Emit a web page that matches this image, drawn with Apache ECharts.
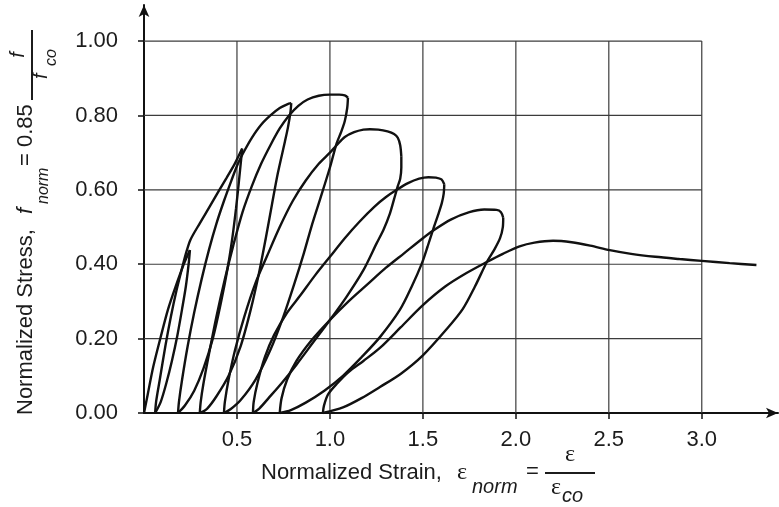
<!DOCTYPE html>
<html>
<head>
<meta charset="utf-8">
<script src="https://cdn.jsdelivr.net/npm/echarts@6/dist/echarts.min.js"></script>
<style>
html,body{margin:0;padding:0;background:#fff;}
#c{width:779px;height:507px;}
</style>
</head>
<body>
<div id="c"></div>
<script>
// ---- tick labels ----
const xTicks = [0.5, 1.0, 1.5, 2.0, 2.5, 3.0];
const yTicks = [0, 0.2, 0.4, 0.6, 0.8, 1.0];

// ---- curves (normalized strain, normalized stress) ----
const envelope0 = [[0,0],[0.02,0.05],[0.05,0.125],[0.09,0.205],[0.13,0.28],[0.17,0.34],[0.21,0.395],[0.247,0.438]];
const unload1 = [[0.247,0.438],[0.24,0.40],[0.225,0.34],[0.205,0.28],[0.18,0.21],[0.15,0.14],[0.12,0.08],[0.09,0.03],[0.06,0]];
const reload1 = [[0.06,0],[0.065,0.03],[0.085,0.09],[0.115,0.18],[0.145,0.26],[0.175,0.33],[0.205,0.39],[0.228,0.433],[0.25,0.466],[0.30,0.51],[0.35,0.552],[0.40,0.595],[0.445,0.633],[0.49,0.672],[0.528,0.711]];
const unload2 = [[0.528,0.711],[0.522,0.68],[0.51,0.62],[0.495,0.55],[0.475,0.47],[0.45,0.39],[0.415,0.30],[0.37,0.20],[0.32,0.12],[0.27,0.06],[0.22,0.02],[0.183,0]];
const reload2 = [[0.183,0],[0.188,0.03],[0.205,0.09],[0.235,0.18],[0.27,0.27],[0.31,0.36],[0.35,0.44],[0.39,0.51],[0.43,0.57],[0.47,0.625],[0.505,0.67],[0.54,0.705],[0.58,0.74],[0.63,0.775],[0.68,0.80],[0.73,0.82],[0.77,0.83],[0.792,0.833]];
const unload3 = [[0.792,0.833],[0.788,0.81],[0.775,0.77],[0.758,0.73],[0.72,0.645],[0.688,0.56],[0.655,0.47],[0.62,0.38],[0.575,0.28],[0.52,0.18],[0.455,0.10],[0.39,0.045],[0.34,0.012],[0.30,0]];
const reload3 = [[0.30,0],[0.305,0.03],[0.32,0.08],[0.35,0.16],[0.39,0.26],[0.435,0.36],[0.48,0.45],[0.53,0.54],[0.58,0.61],[0.63,0.67],[0.68,0.72],[0.73,0.765],[0.78,0.80],[0.83,0.826],[0.88,0.843],[0.94,0.853],[1.0,0.856],[1.05,0.856],[1.08,0.854],[1.097,0.848]];
const unload4 = [[1.097,0.848],[1.093,0.82],[1.08,0.785],[1.06,0.755],[1.036,0.725],[1.0,0.66],[0.946,0.573],[0.90,0.50],[0.86,0.43],[0.81,0.35],[0.75,0.26],[0.68,0.17],[0.60,0.09],[0.52,0.035],[0.465,0.01],[0.43,0]];
const reload4 = [[0.43,0],[0.435,0.03],[0.455,0.09],[0.49,0.17],[0.54,0.26],[0.60,0.35],[0.66,0.42],[0.73,0.50],[0.80,0.57],[0.87,0.625],[0.94,0.67],[1.0,0.70],[1.036,0.72],[1.08,0.742],[1.13,0.755],[1.18,0.762],[1.215,0.763],[1.26,0.762],[1.31,0.757],[1.345,0.75],[1.365,0.74],[1.378,0.72],[1.384,0.69]];
const unload5 = [[1.384,0.69],[1.384,0.66],[1.378,0.63],[1.365,0.61],[1.345,0.575],[1.323,0.537],[1.29,0.495],[1.251,0.456],[1.18,0.384],[1.09,0.313],[1.0,0.25],[0.91,0.19],[0.82,0.13],[0.74,0.08],[0.67,0.04],[0.62,0.012],[0.586,0]];
const reload5 = [[0.586,0],[0.59,0.03],[0.61,0.08],[0.65,0.15],[0.70,0.21],[0.77,0.27],[0.839,0.315],[0.92,0.37],[1.0,0.42],[1.08,0.47],[1.16,0.515],[1.24,0.555],[1.30,0.58],[1.359,0.60],[1.42,0.618],[1.48,0.63],[1.53,0.634],[1.57,0.633],[1.60,0.628],[1.615,0.615]];
const unload6 = [[1.615,0.615],[1.612,0.59],[1.602,0.565],[1.58,0.53],[1.554,0.492],[1.525,0.447],[1.495,0.403],[1.44,0.34],[1.376,0.277],[1.269,0.204],[1.17,0.15],[1.07,0.10],[0.97,0.06],[0.87,0.028],[0.79,0.008],[0.73,0]];
const reload6 = [[0.73,0],[0.74,0.04],[0.77,0.09],[0.82,0.14],[0.90,0.195],[1.0,0.25],[1.10,0.30],[1.20,0.345],[1.30,0.39],[1.40,0.43],[1.50,0.47],[1.554,0.49],[1.65,0.52],[1.75,0.54],[1.83,0.547],[1.896,0.546],[1.92,0.54],[1.932,0.525]];
const unload7 = [[1.932,0.525],[1.93,0.50],[1.915,0.47],[1.885,0.44],[1.844,0.406],[1.78,0.34],[1.715,0.28],[1.627,0.225],[1.50,0.155],[1.38,0.105],[1.269,0.07],[1.17,0.04],[1.07,0.015],[0.962,0]];
const reload7 = [[0.962,0],[0.968,0.02],[0.99,0.05],[1.04,0.08],[1.10,0.11],[1.18,0.14],[1.269,0.175],[1.38,0.23],[1.50,0.29],[1.62,0.34],[1.73,0.375],[1.844,0.406],[1.93,0.428],[2.02,0.448],[2.10,0.458],[2.20,0.463],[2.30,0.459],[2.40,0.45],[2.505,0.438],[2.62,0.428],[2.75,0.42],[2.88,0.414],[3.0,0.409],[3.15,0.403],[3.294,0.398]];

const curves = [envelope0, unload1, reload1, unload2, reload2, unload3, reload3,
  unload4, reload4, unload5, reload5, unload6, reload6, unload7, reload7];

const xMax = 3.41, yMax = 1.097;
const gridXEnd = xTicks[xTicks.length - 1];
const gridYEnd = yTicks[yTicks.length - 1];

const FONT = '"Liberation Sans", Arial, Helvetica, sans-serif';
const SERIF = '"Liberation Serif", "DejaVu Serif", serif';
const INK = '#111';
const TXT = '#1c1c1c';

const series = [];
// grid lines built from tick arrays
yTicks.filter(v => v > 0).forEach(v => {
  series.push({type:'line', silent:true, symbol:'none', animation:false,
    lineStyle:{color:'#3c3c3c', width:1.2}, data:[[0, v],[gridXEnd, v]], z:1});
});
xTicks.forEach(v => {
  series.push({type:'line', silent:true, symbol:'none', animation:false,
    lineStyle:{color:'#3c3c3c', width:1.2}, data:[[v, 0],[v, gridYEnd]], z:1});
});
curves.forEach(c => {
  series.push({type:'line', silent:true, symbol:'none', animation:false, smooth:0.3,
    lineStyle:{color:INK, width:2.4}, data:c, z:3});
});

const chart = echarts.init(document.getElementById('c'), null, {renderer:'canvas'});
chart.setOption({
  animation:false,
  backgroundColor:'#fff',
  grid:{left:144, right:1, top:5, bottom:94, containLabel:false},
  xAxis:{type:'value', min:0, max:xMax, interval:0.5,
    axisLine:{show:true, onZero:false, symbol:['none','arrow'], symbolSize:[8,12], lineStyle:{color:INK, width:2}},
    axisTick:{show:true, length:6, inside:false, customValues:xTicks, lineStyle:{color:INK, width:1.5}},
    axisLabel:{customValues:xTicks, margin:16, fontSize:22, fontFamily:FONT, color:TXT,
      formatter:v => v.toFixed(1)},
    splitLine:{show:false}},
  yAxis:{type:'value', min:0, max:yMax, interval:0.2,
    axisLine:{show:true, onZero:false, symbol:['none','arrow'], symbolSize:[8,12], lineStyle:{color:INK, width:2}},
    axisTick:{show:true, length:6, inside:false, customValues:yTicks, lineStyle:{color:INK, width:1.5}},
    axisLabel:{customValues:yTicks, margin:26, fontSize:22, fontFamily:FONT, color:TXT,
      formatter:v => v.toFixed(2)},
    splitLine:{show:false}},
  series:series,
  graphic:[
    // x-axis title
    {type:'text', x:261, y:472.5, style:{text:'Normalized Strain,', font:'22px ' + FONT, fill:TXT, align:'left', verticalAlign:'middle'}},
    {type:'text', x:457, y:473, style:{text:'\u03b5', font:'24px ' + SERIF, fill:TXT, align:'left', verticalAlign:'middle'}},
    {type:'text', x:472, y:487, style:{text:'norm', font:'italic 20px ' + FONT, fill:TXT, align:'left', verticalAlign:'middle'}},
    {type:'text', x:526, y:472, style:{text:'=', font:'22px ' + FONT, fill:TXT, align:'left', verticalAlign:'middle'}},
    {type:'line', shape:{x1:545, y1:473, x2:595, y2:473}, style:{stroke:TXT, lineWidth:2}},
    {type:'text', x:570, y:455, style:{text:'\u03b5', font:'24px ' + SERIF, fill:TXT, align:'center', verticalAlign:'middle'}},
    {type:'text', x:551, y:488, style:{text:'\u03b5', font:'24px ' + SERIF, fill:TXT, align:'left', verticalAlign:'middle'}},
    {type:'text', x:562, y:496, style:{text:'co', font:'italic 20px ' + FONT, fill:TXT, align:'left', verticalAlign:'middle'}},
    // y-axis title (rotated)
    {type:'text', x:25.5, y:415, rotation:Math.PI/2, style:{text:'Normalized Stress, ', font:'22px ' + FONT, fill:TXT, align:'left', verticalAlign:'middle'}},
    {type:'text', x:25.5, y:214, rotation:Math.PI/2, style:{text:'f', font:'italic 22px ' + FONT, fill:TXT, align:'left', verticalAlign:'middle'}},
    {type:'text', x:44, y:204, rotation:Math.PI/2, style:{text:'norm', font:'italic 16px ' + FONT, fill:TXT, align:'left', verticalAlign:'middle'}},
    {type:'text', x:25.5, y:166, rotation:Math.PI/2, style:{text:'= 0.85', font:'22px ' + FONT, fill:TXT, align:'left', verticalAlign:'middle'}},
    {type:'line', shape:{x1:32, y1:100, x2:32, y2:30}, style:{stroke:TXT, lineWidth:2}},
    {type:'text', x:18, y:55, rotation:Math.PI/2, style:{text:'f', font:'italic 20px ' + FONT, fill:TXT, align:'center', verticalAlign:'middle'}},
    {type:'text', x:41, y:79, rotation:Math.PI/2, style:{text:'f', font:'italic 20px ' + FONT, fill:TXT, align:'left', verticalAlign:'middle'}},
    {type:'text', x:52, y:66, rotation:Math.PI/2, style:{text:'co', font:'italic 16px ' + FONT, fill:TXT, align:'left', verticalAlign:'middle'}}
  ]
});
</script>
</body>
</html>
